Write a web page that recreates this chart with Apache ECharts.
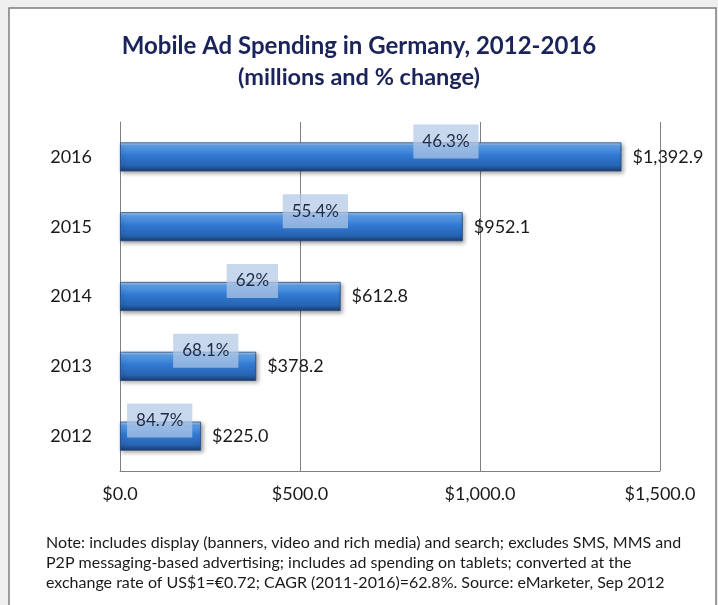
<!DOCTYPE html>
<html>
<head>
<meta charset="utf-8">
<script src="https://cdn.jsdelivr.net/npm/echarts@6/dist/echarts.min.js"></script>
<style>
  html, body { margin: 0; padding: 0; background: #efefef; }
  #chart { width: 718px; height: 605px; }
</style>
</head>
<body>
<div id="chart"></div>
<script>
// Mobile ad spending in Germany, millions of US$ and year-over-year % change
const years = ['2012', '2013', '2014', '2015', '2016'];
const spending = [225.0, 378.2, 612.8, 952.1, 1392.9];
const pctChange = ['84.7%', '68.1%', '62%', '55.4%', '46.3%'];
const axisTicks = [0, 500, 1000, 1500];

// Where each % change tag sits along its bar (share of bar length)
const changeTagAlong = [0.49, 0.63, 0.60, 0.57, 0.65];

const money = v => '$' + v.toLocaleString('en-US', { minimumFractionDigits: 1, maximumFractionDigits: 1 });

const FONT = 'Lato';

const chart = echarts.init(document.getElementById('chart'));

const tubeFill = new echarts.graphic.LinearGradient(0, 0, 0, 1, [
  { offset: 0.00, color: '#a9d0f6' },
  { offset: 0.12, color: '#5d9ee6' },
  { offset: 0.45, color: '#3079d2' },
  { offset: 0.80, color: '#2864b3' },
  { offset: 1.00, color: '#1a3b6b' }
]);

chart.setOption({
  backgroundColor: '#efefef',
  animation: false,
  graphic: [{
    type: 'rect',
    z: -10,
    shape: { x: 9, y: 8, width: 707, height: 640 },
    style: { fill: '#ffffff', stroke: '#7d7d7d', lineWidth: 1.5 }
  }],
  title: [{
    text: 'Mobile Ad Spending in Germany, 2012-2016',
    left: 'center',
    top: 29,
    textStyle: { fontFamily: FONT, fontSize: 24, fontWeight: 'bold', color: '#1a235a' }
  }, {
    text: '(millions and % change)',
    left: 'center',
    top: 60,
    textStyle: { fontFamily: FONT, fontSize: 23.5, fontWeight: 'bold', color: '#1a235a' }
  }, {
    text: 'Note: includes display (banners, video and rich media) and search; excludes SMS, MMS and\n' +
          'P2P messaging-based advertising; includes ad spending on tablets; converted at the\n' +
          'exchange rate of US$1=€0.72; CAGR (2011-2016)=62.8%. Source: eMarketer, Sep 2012',
    left: 41,
    top: 528,
    textStyle: { fontFamily: FONT, fontSize: 16, fontWeight: 'normal', color: '#1a1a1a', lineHeight: 20 }
  }],
  grid: { left: 120, right: 58, top: 122, bottom: 134 },
  xAxis: {
    type: 'value',
    min: axisTicks[0],
    max: axisTicks[axisTicks.length - 1],
    interval: axisTicks[1] - axisTicks[0],
    axisLine: { show: true, lineStyle: { color: '#808080', width: 1 } },
    axisTick: { show: false },
    splitLine: { show: true, lineStyle: { color: '#808080', width: 1 } },
    axisLabel: {
      margin: 14,
      fontFamily: FONT, fontSize: 18, color: '#1a1a1a',
      formatter: v => money(v)
    }
  },
  yAxis: {
    type: 'category',
    data: years,
    axisLine: { show: true, lineStyle: { color: '#808080', width: 1 } },
    axisTick: { show: false },
    axisLabel: { margin: 28, fontFamily: FONT, fontSize: 18, color: '#1a1a1a' }
  },
  series: [{
    name: 'Spending',
    type: 'bar',
    data: spending,
    barWidth: 29,
    itemStyle: {
      color: tubeFill,
      borderColor: '#23487e',
      borderWidth: 0.8,
      shadowColor: 'rgba(0,0,0,0.35)',
      shadowBlur: 4,
      shadowOffsetX: 2,
      shadowOffsetY: 2
    },
    label: {
      show: true,
      position: 'right',
      distance: 11,
      fontFamily: FONT, fontSize: 18, color: '#1a1a1a',
      formatter: p => money(p.value)
    },
    z: 2
  }, {
    name: '% change',
    type: 'bar',
    data: spending.map((v, i) => ({
      value: v,
      label: { position: [(changeTagAlong[i] * 100).toFixed(1) + '%', -1] }
    })),
    barWidth: 29,
    barGap: '-100%',
    itemStyle: { color: 'rgba(0,0,0,0)' },
    label: {
      show: true,
      align: 'center',
      verticalAlign: 'middle',
      fontFamily: FONT, fontSize: 17, color: '#1f2a44',
      lineHeight: 18,
      backgroundColor: 'rgba(178,200,228,0.72)',
      padding: [8, 9, 8, 9],
      formatter: p => pctChange[p.dataIndex]
    },
    z: 3
  }]
});
</script>
</body>
</html>
